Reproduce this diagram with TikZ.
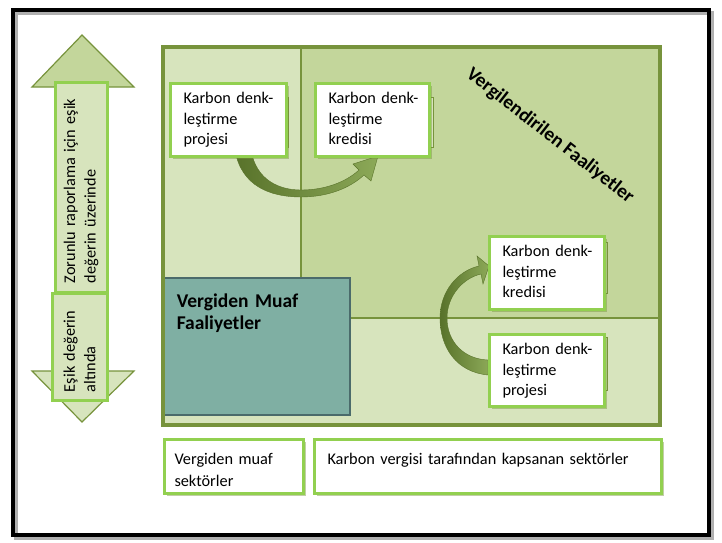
\documentclass[tikz,border=0pt]{standalone}
\usepackage{fontspec}
\setmainfont{Carlito}
\usetikzlibrary{shadows}
\definecolor{lightfill}{HTML}{D7E4BD}
\definecolor{darkfill}{HTML}{C3D69B}
\definecolor{olive}{HTML}{77933C}
\definecolor{lgreen}{HTML}{92D050}
\definecolor{tealfill}{HTML}{7FAFA3}
\definecolor{tealline}{HTML}{4B6B6B}
\definecolor{arrdark}{HTML}{58722A}
\definecolor{arrlight}{HTML}{8CA958}
\definecolor{frameshadow}{HTML}{B0B0B0}
\tikzset{
  regfont/.style={font=\fontsize{16.3}{20.5}\selectfont},
  tbox/.style={draw=lgreen, line width=3pt, fill=white, align=left,
    anchor=north west, inner ysep=0pt, regfont,
    drop shadow={shadow xshift=2pt, shadow yshift=-2pt, fill=olive, opacity=0.45}},
  bracketbox/.style={draw=olive, line width=0.8pt, fill=lightfill},
  arrowbox/.style={draw=lgreen, line width=3pt, fill=lightfill, rotate=90,
    align=left, inner ysep=0pt, regfont},
  arrowhd/.style={draw=olive, line width=1.2pt},
  curvedarr/.style={left color=arrdark, right color=arrlight, draw=arrdark, line width=0.4pt}
}
\begin{document}
\begin{tikzpicture}[x=1pt,y=-1pt]
\useasboundingbox (0,0) rectangle (722,542);
% outer frame
\draw[frameshadow, line width=4pt] (16,13) rectangle (712,538);
\draw[black, line width=4pt] (13,10) rectangle (709,535);

% big panel regions
\fill[lightfill] (163,47) rectangle (301,318);
\fill[darkfill] (301,47) rectangle (660,318);
\fill[lightfill] (163,318) rectangle (660,425);
\draw[olive, line width=2.5pt] (301,47) -- (301,278);
\draw[olive, line width=2.5pt] (301,318) -- (660,318);

% exempt activities
\node[draw=tealline, line width=1.5pt, fill=tealfill, anchor=north west,
  minimum width=186pt, minimum height=137pt, text width=160pt,
  inner xsep=13pt, inner ysep=0pt, text height=30pt, text depth=107pt,
  align=left, font=\fontsize{19.5}{22}\selectfont\bfseries]
  (muaf) at (163,277) {\mbox{Vergiden Muaf}\\Faaliyetler};

\draw[olive, line width=3.5pt] (163,47) rectangle (660,425);

% heading
\node[rotate=-38, font=\fontsize{19.5}{22}\selectfont\bfseries, inner sep=0pt]
  (vergilendirilen) at (550,136) {Vergilendirilen Faaliyetler};

% brackets behind boxes
\draw[bracketbox] (275,97) rectangle (288,147);
\draw[bracketbox] (418,97) rectangle (433,147);
\draw[bracketbox] (593,242) rectangle (607,293);
\draw[bracketbox] (593,337) rectangle (607,390);

% curved arrows
\shadedraw[curvedarr] (235,150) .. controls (241,186) and (270,197) .. (301,197)
  .. controls (328,197) and (350,188) .. (364,175)
  -- (371,181) -- (378,156) -- (353,164) -- (359,170)
  .. controls (346,182) and (325,190) .. (301,190)
  .. controls (279,190) and (256,180) .. (251,150) -- cycle;
\shadedraw[curvedarr] (488,375) .. controls (456,372) and (440,347) .. (440,318)
  .. controls (440,292) and (457,271) .. (479,266)
  -- (477,256) -- (489,266) -- (483,284) -- (481,274)
  .. controls (463,278) and (447,296) .. (447,318)
  .. controls (447,341) and (463,359) .. (488,360) -- cycle;

% offset boxes
\node[tbox, minimum width=116pt, minimum height=73pt, text width=90pt,
  inner xsep=13pt, text height=20pt, text depth=53pt]
  (projeA) at (169,82) {\mbox{Karbon denk-}\\leştirme\\projesi};
\node[tbox, minimum width=114pt, minimum height=73pt, text width=88pt,
  inner xsep=13pt, text height=20pt, text depth=53pt]
  (krediB) at (314,82) {\mbox{Karbon denk-}\\leştirme\\kredisi};
\node[tbox, minimum width=115pt, minimum height=73pt, text width=89pt,
  inner xsep=12pt, text height=20pt, text depth=53pt]
  (krediC) at (488,235) {\mbox{Karbon denk-}\\leştirme\\kredisi};
\node[tbox, minimum width=115pt, minimum height=72pt, text width=89pt,
  inner xsep=12pt, text height=20pt, text depth=52pt]
  (projeD) at (488,333) {\mbox{Karbon denk-}\\leştirme\\projesi};

% bottom boxes
\node[tbox, minimum width=139pt, minimum height=54pt, text width=119pt,
  inner xsep=10pt, text height=25pt, text depth=29pt,
  font=\fontsize{16.3}{21.5}\selectfont]
  (muafsek) at (163,438) {\mbox{Vergiden muaf}\\sektörler};
\node[tbox, minimum width=347pt, minimum height=54pt, text width=321pt,
  inner xsep=13pt, text height=25pt, text depth=29pt]
  (kapsanan) at (313,438) {\mbox{Karbon vergisi tarafından kapsanan sektörler}};

% left double arrow
\fill[darkfill, arrowhd] (32,87) -- (82,35) -- (134,87) -- cycle;
\fill[lightfill, arrowhd] (32,371) -- (134,371) -- (82,422) -- cycle;
\node[arrowbox, minimum width=210pt, minimum height=52pt, text width=192pt,
  inner xsep=9pt] (ust) at (81,187) {\mbox{Zorunlu raporlama için eşik}\\\mbox{değerin üzerinde}};
\node[arrowbox, minimum width=107pt, minimum height=55pt, text width=91pt,
  inner xsep=8pt] (alt) at (79.5,346.5) {\mbox{Eşik değerin}\\altında};
\end{tikzpicture}
\end{document}
